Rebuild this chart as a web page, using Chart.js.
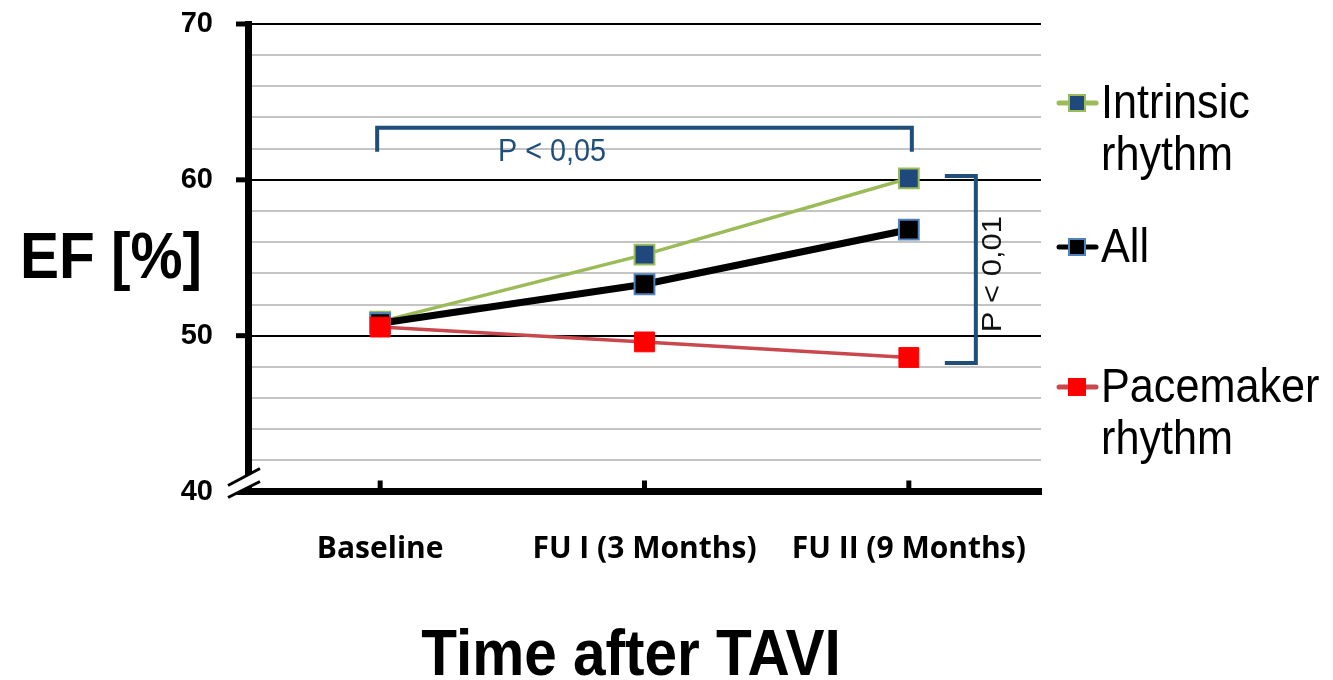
<!DOCTYPE html>
<html>
<head>
<meta charset="utf-8">
<script src="https://cdn.jsdelivr.net/npm/chart.js@4"></script>
<style>
  body { margin: 0; background: #fff; }
  #chart { display: block; }
</style>
</head>
<body>
<canvas id="chart" width="1333" height="680"></canvas>
<script>
const categories = ['Baseline', 'FU I (3 Months)', 'FU II (9 Months)'];
const intrinsicRhythm = [50.9, 55.2, 60.1];
const allPatients = [50.8, 53.3, 56.8];
const pacemakerRhythm = [50.55, 49.6, 48.6];
const seriesLabels = [['Intrinsic', 'rhythm'], ['All'], ['Pacemaker', 'rhythm']];
const majorTicks = [40, 50, 60, 70];
const yTitle = 'EF [%]';
const xTitle = 'Time after TAVI';
const pTop = 'P < 0,05';
const pRight = 'P < 0,01';

const BLUE = '#1F4E7A';

// squeezed text, the source picture is a bit narrower than normal fonts
function squeezed(ctx, str, x, y, font, color, align) {
  ctx.save();
  ctx.translate(x, y);
  ctx.scale(0.9, 1);
  ctx.font = font;
  ctx.fillStyle = color;
  ctx.textAlign = align || 'left';
  ctx.textBaseline = 'alphabetic';
  ctx.fillText(str, 0, 0);
  ctx.restore();
}

function seg(ctx, x1, y1, x2, y2) {
  ctx.beginPath();
  ctx.moveTo(x1, y1);
  ctx.lineTo(x2, y2);
  ctx.stroke();
}

const extras = {
  id: 'extras',
  afterDraw(chart) {
    const { ctx, chartArea: a, scales: { x, y } } = chart;
    ctx.save();

    // tick marks
    ctx.strokeStyle = '#000';
    ctx.lineWidth = 5;
    majorTicks.slice(1).forEach(v => {
      const py = y.getPixelForValue(v);
      seg(ctx, a.left - 12, py, a.left, py);
    });
    categories.forEach((c, i) => {
      const px = x.getPixelForValue(i);
      seg(ctx, px, a.bottom - 11, px, a.bottom);
    });
    ctx.lineWidth = 7;
    seg(ctx, a.left - 11, a.bottom, a.left, a.bottom);

    // axis break
    ctx.fillStyle = '#fff';
    ctx.beginPath();
    ctx.moveTo(a.left - 18, a.bottom - 7);
    ctx.lineTo(a.left + 12, a.bottom - 23);
    ctx.lineTo(a.left + 12, a.bottom - 10);
    ctx.lineTo(a.left - 18, a.bottom + 5);
    ctx.closePath();
    ctx.fill();
    ctx.lineWidth = 3;
    seg(ctx, a.left - 20, a.bottom - 6, a.left + 12, a.bottom - 23);
    seg(ctx, a.left - 20, a.bottom + 6, a.left + 12, a.bottom - 10);

    // significance brackets
    ctx.strokeStyle = BLUE;
    ctx.lineWidth = 4;
    ctx.lineJoin = 'miter';
    const bx1 = x.getPixelForValue(0) - 3;
    const bx2 = x.getPixelForValue(2) + 3;
    const by = y.getPixelForValue(63.35);
    const byEnd = y.getPixelForValue(61.8);
    ctx.beginPath();
    ctx.moveTo(bx1, byEnd);
    ctx.lineTo(bx1, by);
    ctx.lineTo(bx2, by);
    ctx.lineTo(bx2, byEnd);
    ctx.stroke();
    squeezed(ctx, pTop, x.getPixelForValue(0.65), y.getPixelForValue(61.2), '32px "Liberation Sans"', BLUE, 'center');

    const rx1 = x.getPixelForValue(2) + 36;
    const rx2 = x.getPixelForValue(2) + 67;
    const ry1 = y.getPixelForValue(60.25);
    const ry2 = y.getPixelForValue(48.25);
    ctx.beginPath();
    ctx.moveTo(rx1, ry1);
    ctx.lineTo(rx2, ry1);
    ctx.lineTo(rx2, ry2);
    ctx.lineTo(rx1, ry2);
    ctx.stroke();

    ctx.save();
    ctx.translate(rx2 + 25, y.getPixelForValue(53.95));
    ctx.rotate(-Math.PI / 2);
    ctx.scale(1, 0.9);
    ctx.font = '31px "Liberation Sans"';
    ctx.fillStyle = '#111';
    ctx.textAlign = 'center';
    ctx.fillText(pRight, 0, 0);
    ctx.restore();

    // axis titles
    squeezed(ctx, yTitle, 20, 278, 'bold 65px "Liberation Sans"', '#000', 'left');
    squeezed(ctx, xTitle, 631, 675, 'bold 65px "Liberation Sans"', '#000', 'center');

    // legend
    const legendY = [103, 247, 387];
    chart.data.datasets.forEach((ds, i) => {
      const ly = legendY[i];
      ctx.strokeStyle = ds.borderColor;
      ctx.lineWidth = 5;
      ctx.lineCap = 'round';
      seg(ctx, 1059, ly, 1096, ly);
      ctx.lineCap = 'butt';
      ctx.fillStyle = ds.pointBackgroundColor;
      ctx.fillRect(1069, ly - 8, 16, 16);
      ctx.strokeStyle = ds.pointBorderColor;
      ctx.lineWidth = 2;
      ctx.strokeRect(1069, ly - 8, 16, 16);
      seriesLabels[i].forEach((t, k) => {
        squeezed(ctx, t, 1101, ly + 15 + k * 52, '48px "Liberation Sans"', '#000', 'left');
      });
    });

    ctx.restore();
  }
};

new Chart(document.getElementById('chart'), {
  type: 'line',
  data: {
    labels: categories,
    datasets: [
      {
        label: 'Intrinsic rhythm',
        data: intrinsicRhythm,
        borderColor: '#9BBB59',
        borderWidth: 3.5,
        pointStyle: 'rect',
        pointRadius: 14,
        pointBackgroundColor: '#1F497D',
        pointBorderColor: '#9BBB59',
        pointBorderWidth: 2,
        order: 2
      },
      {
        label: 'All',
        data: allPatients,
        borderColor: '#000000',
        borderWidth: 7,
        pointStyle: 'rect',
        pointRadius: 14,
        pointBackgroundColor: '#000000',
        pointBorderColor: '#4F81BD',
        pointBorderWidth: 2,
        order: 1
      },
      {
        label: 'Pacemaker rhythm',
        data: pacemakerRhythm,
        borderColor: '#C8484E',
        borderWidth: 3.5,
        pointStyle: 'rect',
        pointRadius: 14,
        pointBackgroundColor: '#FF0000',
        pointBorderColor: '#FF0000',
        pointBorderWidth: 1,
        order: 0
      }
    ]
  },
  options: {
    responsive: false,
    animation: false,
    devicePixelRatio: 1,
    layout: { padding: { left: 0, top: 24, right: 292, bottom: 0 } },
    plugins: {
      legend: { display: false },
      tooltip: { enabled: false }
    },
    elements: { line: { tension: 0 } },
    scales: {
      x: {
        offset: true,
        grid: { display: false, drawTicks: false },
        border: { display: true, color: '#000', width: 7 },
        ticks: {
          color: '#000',
          font: { family: 'Open Sans', weight: 'bold', size: 30 },
          padding: 40,
          autoSkip: false,
          maxRotation: 0
        },
        afterFit: s => { s.height = 188.5; }
      },
      y: {
        min: 40,
        max: 70,
        grid: {
          drawTicks: false,
          lineWidth: 2,
          color: c => (c.tick && c.tick.value % 10 === 0) ? '#000' : '#C4C4C4'
        },
        border: { display: true, color: '#000', width: 7 },
        ticks: {
          stepSize: 2,
          maxTicksLimit: 20,
          autoSkip: false,
          color: '#000',
          padding: 35,
          font: { family: 'Liberation Sans', weight: 'bold', size: 29 },
          callback: v => majorTicks.includes(v) ? v : ''
        },
        afterFit: s => {
          s.width = 248;
          s.paddingTop = 0;
          s.paddingBottom = 0;
        }
      }
    }
  },
  plugins: [extras]
});
</script>
</body>
</html>
